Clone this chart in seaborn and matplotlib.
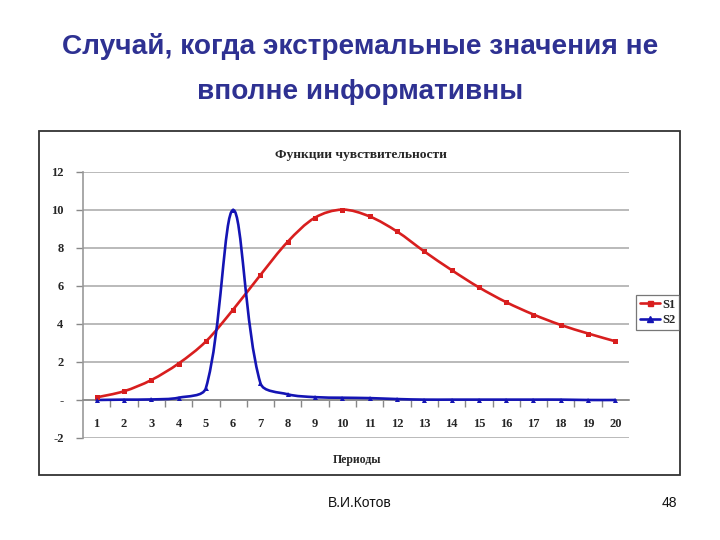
import matplotlib
matplotlib.use('Agg')
import numpy as np
import pandas as pd
import matplotlib.pyplot as plt
import seaborn as sns
from matplotlib.path import Path
from matplotlib.patches import PathPatch, Rectangle
from matplotlib.lines import Line2D

# ---------------- data ----------------
periods = list(range(1, 21))
s1 = [0.14, 0.46, 1.05, 1.92, 3.08, 4.76, 6.58, 8.33, 9.60, 10.02,
      9.66, 8.87, 7.82, 6.84, 5.93, 5.15, 4.50, 3.95, 3.50, 3.09]
s2 = [0.00, 0.02, 0.03, 0.12, 0.62, 10.00, 0.88, 0.30, 0.15, 0.12,
      0.10, 0.05, 0.02, 0.02, 0.02, 0.02, 0.02, 0.02, 0.00, 0.00]
series_names = ['S1', 'S2']
y_ticks = [-2, 0, 2, 4, 6, 8, 10, 12]
y_tick_labels = ['-2', '-', '2', '4', '6', '8', '10', '12']
slide_title = 'Случай, когда экстремальные значения не\nвполне информативны'
chart_title = 'Функции чувствительности'
x_label = 'Периоды'
footer_author = 'В.И.Котов'
footer_page = '48'

df = pd.DataFrame({
    'period': periods * 2,
    'value': s1 + s2,
    'series': [series_names[0]] * len(s1) + [series_names[1]] * len(s2),
})

# ---------------- style ----------------
sns.set_style('white')
plt.rcParams['font.family'] = ['Liberation Sans', 'DejaVu Sans']

RED = '#D81E1E'
BLUE = '#1414B4'
GRID = '#B4B4B4'
SERIF = ['Liberation Serif', 'DejaVu Serif']

W, H = 720, 540
fig = plt.figure(figsize=(7.2, 5.4), dpi=100)
fig.patch.set_facecolor('white')

def fx(px):
    return px / W

def fy(py):
    return 1 - py / H

# slide title
fig.text(fx(360), fy(69), slide_title, ha='center', va='center',
         fontsize=20.2, fontweight='bold', color='#2E3192',
         linespacing=1.95, family=['Liberation Sans', 'DejaVu Sans'])

# chart frame
fig.patches.append(Rectangle((fx(39), fy(475)), fx(680) - fx(39), fy(131) - fy(475),
                             transform=fig.transFigure, fill=False,
                             edgecolor='#333333', linewidth=1.3))

# plot area
ax = fig.add_axes([fx(83), fy(438), fx(629) - fx(83), fy(172) - fy(438)])
ax.set_facecolor('white')
ax.set_xlim(0.5, 20.5)
ax.set_ylim(-2, 12)

def smooth_path(axes, xs, ys):
    """Excel-style smoothed line: cubic Beziers with tangents scaled by
    neighbouring segment lengths measured on screen."""
    data = np.column_stack([xs, ys]).astype(float)
    pts = axes.transData.transform(data)
    n = len(pts)
    d = np.r_[np.hypot(*np.diff(pts, axis=0).T)]
    verts = [pts[0]]
    codes = [Path.MOVETO]
    for i in range(n - 1):
        p1, p2 = pts[i], pts[i + 1]
        p0 = pts[i - 1] if i > 0 else p1
        p3 = pts[i + 2] if i + 2 < n else p2
        d01 = d[i - 1] if i > 0 else d[i]
        d12 = d[i]
        d23 = d[i + 1] if i + 2 < n else d[i]
        c1 = p1 + (p2 - p0) * d12 / (d01 + d12) / 3.0
        c2 = p2 - (p3 - p1) * d12 / (d12 + d23) / 3.0
        verts += [c1, c2, p2]
        codes += [Path.CURVE4] * 3
    verts = axes.transData.inverted().transform(np.array(verts))
    return Path(verts, codes)

for name, color in zip(series_names, [RED, BLUE]):
    sub = df[df['series'] == name]
    ax.add_patch(PathPatch(smooth_path(ax, sub['period'], sub['value']),
                           fill=False, edgecolor=color, linewidth=1.9,
                           capstyle='round', joinstyle='round', zorder=3))

sns.lineplot(data=df, x='period', y='value', hue='series', style='series',
             palette={'S1': RED, 'S2': BLUE}, markers={'S1': 's', 'S2': '^'},
             dashes=False, linewidth=0, markersize=3.6, markeredgewidth=0,
             ax=ax, legend=False, zorder=4)

ax.set_xlim(0.5, 20.5)
ax.set_ylim(-2, 12)
ax.set_xlabel('')
ax.set_ylabel('')

# y axis
ax.set_yticks(y_ticks)
ax.set_yticklabels(y_tick_labels, family=SERIF, fontweight='bold', fontsize=9)
ax.yaxis.grid(True, color=GRID, linewidth=1.3)
ax.set_axisbelow(True)
ax.tick_params(axis='y', direction='out', length=5, width=1, color='#888888',
               pad=9, left=True)

# x axis crossing at zero
for s in ['top', 'right']:
    ax.spines[s].set_visible(False)
ax.spines['left'].set_color('#999999')
ax.spines['left'].set_linewidth(1.2)
ax.spines['bottom'].set_position(('data', 0))
ax.spines['bottom'].set_color('#888888')
ax.spines['bottom'].set_linewidth(1.2)
ax.set_xticks(periods)
ax.set_xticklabels([str(p) for p in periods], family=SERIF, fontweight='bold', fontsize=9)
ax.set_xticks([p + 0.5 for p in periods[:-1]], minor=True)
ax.tick_params(axis='x', which='major', length=0, pad=13, bottom=True)
ax.tick_params(axis='x', which='minor', direction='out', length=5, width=1,
               color='#888888', bottom=True)

# chart title and axis label
fig.text(fx(360.5), fy(155), chart_title, ha='center', va='center',
         family=SERIF, fontweight='bold', fontsize=9.7)
fig.text(fx(357), fy(460), x_label, ha='center', va='center',
         family=SERIF, fontweight='bold', fontsize=8.5)

# legend
handles = [Line2D([], [], color=RED, marker='s', markersize=3.6, linewidth=1.9),
           Line2D([], [], color=BLUE, marker='^', markersize=4, linewidth=1.9)]
leg = fig.legend(handles, series_names, loc='center',
                 bbox_to_anchor=(fx(657.5), fy(312.5)),
                 prop={'family': SERIF, 'weight': 'bold', 'size': 9},
                 handlelength=1.6, handletextpad=0.2, borderpad=0.3,
                 labelspacing=0.3, frameon=True, fancybox=False,
                 borderaxespad=0)
leg.get_frame().set_edgecolor('#555555')
leg.get_frame().set_linewidth(0.9)

# footer
fig.text(fx(360), fy(503), footer_author, ha='center', va='center', fontsize=10,
         color='#111111')
fig.text(fx(669), fy(503), footer_page, ha='center', va='center', fontsize=10,
         color='#111111')

fig.savefig('out.png', dpi=100, facecolor='white')
